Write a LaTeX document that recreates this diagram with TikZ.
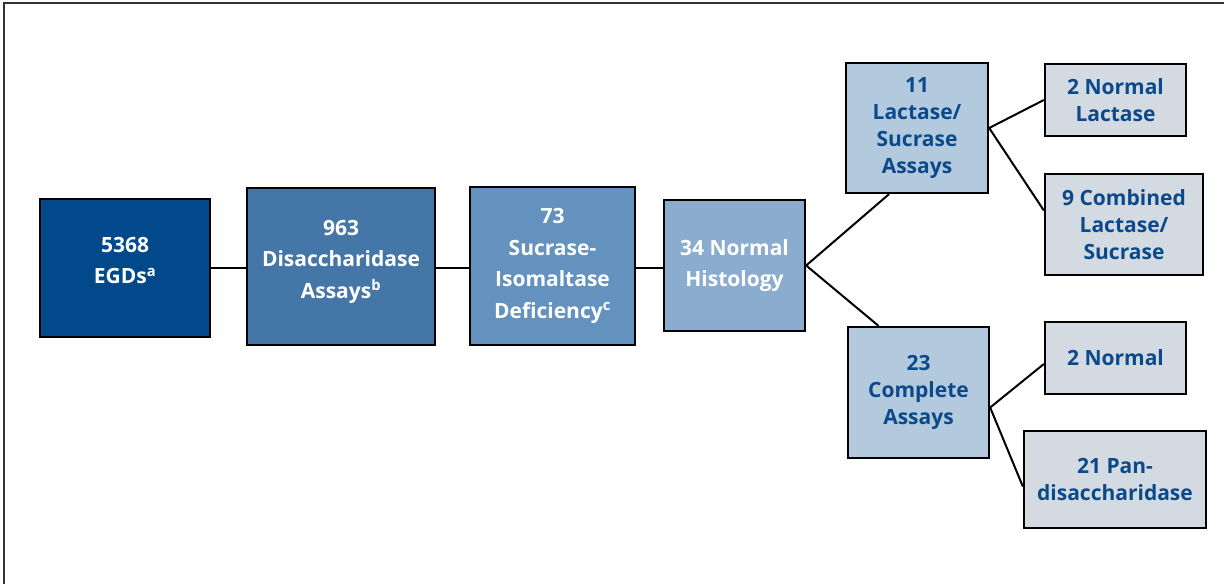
\documentclass[tikz,border=0pt]{standalone}
\usepackage{fontspec}
\setmainfont{Open Sans}
\definecolor{c1}{HTML}{02498C}
\definecolor{c2}{HTML}{4477A8}
\definecolor{c3}{HTML}{6492BE}
\definecolor{c4}{HTML}{8AACCE}
\definecolor{c5}{HTML}{B3C9DE}
\definecolor{c6}{HTML}{D3DAE2}
\definecolor{tblue}{HTML}{0B4A8A}
\definecolor{framec}{HTML}{333333}
\begin{document}
\begin{tikzpicture}[x=1pt,y=-1pt,
  box/.style={draw=black,line width=2.3pt,inner sep=0pt,align=center,font=\fontsize{21}{31.5}\selectfont\bfseries},
  wbox/.style={box,text=white},
  bbox/.style={box,text=tblue,font=\fontsize{21}{27}\selectfont\bfseries},
  conn/.style={draw=black,line width=2pt}]
\useasboundingbox (0,0) rectangle (1224,584);
\draw[framec,line width=2pt] (4,584) -- (4,3) -- (1224,3);
\node[wbox,fill=c1,minimum width=170pt,minimum height=138pt,text depth=15pt] (egd) at (125,268) {5368\\EGDs\textsuperscript{a}};
\node[wbox,fill=c2,minimum width=188pt,minimum height=157pt,text depth=15pt] (dis) at (341,266.5) {963\\Disaccharidase\\Assays\textsuperscript{b}};
\node[wbox,fill=c3,minimum width=165pt,minimum height=158pt] (suc) at (552.5,266) {73\\Sucrase-\\Isomaltase\\Deficiency\textsuperscript{c}};
\node[wbox,fill=c4,minimum width=141pt,minimum height=131pt] (his) at (734.5,265.5) {34 Normal\\Histology};
\node[bbox,fill=c5,minimum width=142pt,minimum height=130pt] (lac) at (917,128) {11\\Lactase/\\Sucrase\\Assays};
\node[bbox,fill=c5,minimum width=141pt,minimum height=131pt] (comp) at (918.5,392.5) {23\\Complete\\Assays};
\node[bbox,fill=c6,minimum width=141pt,minimum height=72pt] (nl) at (1115.5,100) {2 Normal\\Lactase};
\node[bbox,fill=c6,minimum width=158pt,minimum height=101pt] (comb) at (1124,224.5) {9 Combined\\Lactase/\\Sucrase};
\node[bbox,fill=c6,minimum width=141pt,minimum height=72pt] (nrm) at (1115.5,358) {2 Normal};
\node[bbox,fill=c6,minimum width=182pt,minimum height=97pt] (pan) at (1115,479.5) {21 Pan-\\disaccharidase};
\draw[conn] (egd.east) -- (dis.west |- egd.east);
\draw[conn] (dis.east |- egd.east) -- (suc.west |- egd.east);
\draw[conn] (suc.east |- egd.east) -- (his.west |- egd.east);
\draw[conn] ([xshift=-28pt]lac.south) -- (his.east) -- ([xshift=-40pt]comp.north);
\draw[conn] (nl.west) -- (lac.east) -- ([yshift=14pt]comb.west);
\draw[conn] ([yshift=-6pt]nrm.west) -- ([yshift=-15pt]comp.east) -- ([yshift=-7pt]pan.west);
\end{tikzpicture}
\end{document}
